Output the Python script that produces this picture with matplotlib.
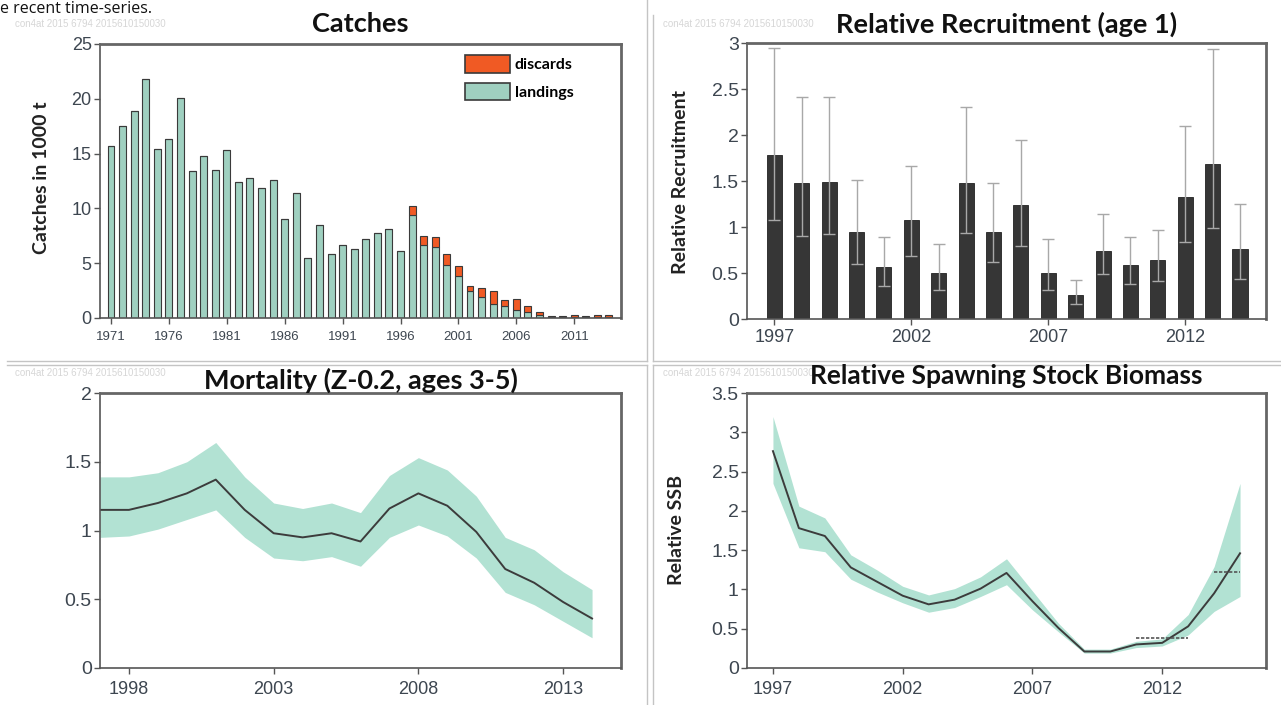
import matplotlib
matplotlib.use("Agg")
import matplotlib.pyplot as plt
from matplotlib.patches import Patch
from matplotlib.lines import Line2D
import numpy as np

# ---------------- data ----------------
catch_years = list(range(1971, 2015))
landings = [15.7, 17.5, 18.85, 21.8, 15.45, 16.35, 20.1, 13.4, 14.8, 13.5,
            15.3, 12.4, 12.8, 11.9, 12.6, 9.0, 11.4, 5.5, 8.5, 5.85,
            6.7, 6.3, 7.2, 7.8, 8.15, 6.15, 9.4, 6.65, 6.5, 4.85,
            3.85, 2.5, 1.95, 1.3, 1.1, 0.75, 0.55, 0.25, 0.05, 0.05,
            0.05, 0.05, 0.05, 0.05]
discards = [0, 0, 0, 0, 0, 0, 0, 0, 0, 0,
            0, 0, 0, 0, 0, 0, 0, 0, 0, 0,
            0, 0, 0, 0, 0, 0, 0.85, 0.85, 0.85, 1.0,
            0.9, 0.45, 0.8, 1.2, 0.5, 0.95, 0.55, 0.3, 0.1, 0.1,
            0.2, 0.1, 0.25, 0.25]
catch_ticks = [1971, 1976, 1981, 1986, 1991, 1996, 2001, 2006, 2011]

rec_years = list(range(1997, 2015))
rec = [1.78, 1.48, 1.49, 0.95, 0.56, 1.08, 0.50, 1.48, 0.95, 1.24,
       0.50, 0.26, 0.74, 0.59, 0.64, 1.33, 1.69, 0.76]
rec_lo = [1.08, 0.90, 0.92, 0.60, 0.36, 0.69, 0.32, 0.94, 0.62, 0.79,
          0.32, 0.16, 0.49, 0.38, 0.41, 0.84, 0.99, 0.44]
rec_hi = [2.95, 2.41, 2.41, 1.51, 0.89, 1.66, 0.81, 2.30, 1.48, 1.95,
          0.87, 0.42, 1.14, 0.89, 0.97, 2.10, 2.93, 1.25]
rec_ticks = [1997, 2002, 2007, 2012]

mort_years = list(range(1997, 2015))
mort = [1.15, 1.15, 1.20, 1.27, 1.37, 1.15, 0.98, 0.95, 0.98, 0.92,
        1.16, 1.27, 1.18, 0.99, 0.72, 0.62, 0.48, 0.36]
mort_lo = [0.95, 0.96, 1.01, 1.08, 1.15, 0.95, 0.80, 0.78, 0.81, 0.74,
           0.95, 1.04, 0.96, 0.80, 0.55, 0.46, 0.34, 0.22]
mort_hi = [1.39, 1.39, 1.42, 1.50, 1.64, 1.39, 1.20, 1.16, 1.20, 1.13,
           1.40, 1.53, 1.44, 1.25, 0.95, 0.86, 0.70, 0.57]
mort_ticks = [1998, 2003, 2008, 2013]

ssb_years = list(range(1997, 2016))
ssb = [2.76, 1.78, 1.68, 1.28, 1.10, 0.92, 0.81, 0.87, 1.01, 1.21,
       0.85, 0.51, 0.21, 0.21, 0.30, 0.32, 0.53, 0.95, 1.46]
ssb_lo = [2.35, 1.53, 1.48, 1.13, 0.97, 0.83, 0.71, 0.77, 0.91, 1.06,
          0.74, 0.46, 0.19, 0.19, 0.26, 0.28, 0.42, 0.72, 0.91]
ssb_hi = [3.20, 2.06, 1.91, 1.44, 1.25, 1.04, 0.93, 1.01, 1.16, 1.39,
          0.98, 0.57, 0.24, 0.24, 0.34, 0.37, 0.68, 1.29, 2.35]
ssb_ticks = [1997, 2002, 2007, 2012]
ssb_ref_years = [[2011, 2013], [2014, 2015]]
ssb_ref_vals = [0.38, 1.22]

# ---------------- style ----------------
W, H = 1281, 705
fig = plt.figure(figsize=(W / 100, H / 100), dpi=100)
fig.patch.set_facecolor("white")

TITLE_FONT = ["Lato", "DejaVu Sans"]
TICK_FONT = ["Liberation Sans Narrow", "Liberation Sans", "DejaVu Sans"]
TICK_COLOR = "#3d4650"
LAND = "#9fd0c0"
DISC = "#f05a24"
BAND = "#b2e2d3"
EDGE = "#3a3a3a"


def px_axes(l, r, t, b):
    return fig.add_axes([l / W, 1 - b / H, (r - l) / W, (b - t) / H])


def style(ax, xticks, yticks, ylabels, xfs=11, yfs=12, xpad=3):
    for s in ["left", "bottom"]:
        ax.spines[s].set_color("#555555")
        ax.spines[s].set_linewidth(1.2)
    for s in ["top", "right"]:
        ax.spines[s].set_color("#666666")
        ax.spines[s].set_linewidth(2.0)
    ax.set_xticks(xticks)
    ax.set_xticklabels([str(x) for x in xticks], fontfamily=TICK_FONT,
                       fontsize=xfs, color=TICK_COLOR)
    ax.set_yticks(yticks)
    ax.set_yticklabels(ylabels, fontfamily=TICK_FONT, fontsize=yfs,
                       color=TICK_COLOR)
    ax.tick_params(axis="both", direction="out", length=4, width=1,
                   color="#555555", pad=2)
    ax.tick_params(axis="x", pad=xpad)


def title(ax, text, y_px, fs=19.5):
    bb = ax.get_position()
    fig.text((bb.x0 + bb.x1) / 2, 1 - y_px / H, text, ha="center",
             va="center", fontsize=fs, fontweight="bold",
             fontfamily=TITLE_FONT, color="#111111", zorder=5)


def ylabel(x_px, y_px, text):
    fig.text(x_px / W, 1 - y_px / H, text, rotation=90, ha="center",
             va="center", fontsize=14, fontweight="bold",
             fontfamily=TITLE_FONT, color="#222222")


# ---------------- page elements ----------------
fig.text(0, 1 - 1 / H, "e recent time-series.", ha="left", va="top",
         fontsize=11.5, fontfamily=["Open Sans", "DejaVu Sans"], color="#111111")

wm = "con4at 2015 6794 2015610150030"
for (x, y) in [(15, 24), (663, 24), (15, 373), (663, 373)]:
    fig.text(x / W, 1 - y / H, wm, fontsize=7, color="#d6d6d6",
             va="center", ha="left", fontfamily=TICK_FONT, zorder=0)

border = dict(color="#c4c4c4", lw=1.0, transform=fig.transFigure, zorder=0)
def fline(x0, y0, x1, y1):
    fig.add_artist(Line2D([x0 / W, x1 / W], [1 - y0 / H, 1 - y1 / H], **border))

fline(647, 0, 647, 361)
fline(7, 361, 647, 361)
fline(653, 15, 653, 361)
fline(653, 361, W, 361)
fline(7, 365, 647, 365)
fline(647, 365, 647, H)
fline(653, 365, W, 365)
fline(653, 365, 653, H)

# ---------------- Catches ----------------
ax1 = px_axes(100, 621, 44, 318)
ax1.bar(catch_years, landings, width=0.6, color=LAND, edgecolor=EDGE,
        linewidth=0.8, zorder=2)
ax1.bar(catch_years, discards, width=0.6, bottom=landings, color=DISC,
        edgecolor=EDGE, linewidth=0.8, zorder=2)
ax1.set_xlim(1970.05, 2015.04)
ax1.set_ylim(0, 25)
style(ax1, catch_ticks, [0, 5, 10, 15, 20, 25],
      ["0", "5", "10", "15", "20", "25"], xfs=9.5, yfs=13, xpad=5)
handles = [Patch(facecolor=DISC, edgecolor=EDGE, linewidth=1.2, label="discards"),
           Patch(facecolor=LAND, edgecolor=EDGE, linewidth=1.2, label="landings")]
ax1.legend(handles=handles, loc="upper right", frameon=False,
           handlelength=2.8, handleheight=1.3, handletextpad=0.3,
           labelspacing=0.65, borderaxespad=0.3, bbox_to_anchor=(0.93, 1.0),
           prop=dict(family=TITLE_FONT, weight="bold", size=11.5))
title(ax1, "Catches", 24)
ylabel(42, 178, "Catches in 1000 t")

# ---------------- Recruitment ----------------
ax2 = px_axes(747, 1266, 43, 319)
rec_a = np.array(rec)
ax2.bar(rec_years, rec, width=0.55, color="#363636", edgecolor="#222222",
        linewidth=0.6, zorder=2)
ax2.errorbar(rec_years, rec,
             yerr=[rec_a - np.array(rec_lo), np.array(rec_hi) - rec_a],
             fmt="none", ecolor="#a8a8a8", elinewidth=1.0, capsize=4,
             capthick=1.0, zorder=3)
ax2.set_xlim(1996.0, 2014.95)
ax2.set_ylim(0, 3)
style(ax2, rec_ticks, [0, 0.5, 1, 1.5, 2, 2.5, 3],
      ["0", "0.5", "1", "1.5", "2", "2.5", "3"], xfs=13, yfs=14)
title(ax2, "Relative Recruitment (age 1)", 24)
ylabel(680, 182, "Relative Recruitment")

# ---------------- Mortality ----------------
ax3 = px_axes(100, 621, 393, 668)
ax3.fill_between(mort_years, mort_lo, mort_hi, color=BAND, linewidth=0,
                 zorder=1)
ax3.plot(mort_years, mort, color="#3c3c3c", lw=1.4, zorder=2)
ax3.set_xlim(1997.0, 2015.0)
ax3.set_ylim(0, 2)
style(ax3, mort_ticks, [0, 0.5, 1, 1.5, 2],
      ["0", "0.5", "1", "1.5", "2"], xfs=13, yfs=14, xpad=5)
title(ax3, "Mortality (Z-0.2, ages 3-5)", 380)

# ---------------- SSB ----------------
ax4 = px_axes(747, 1266, 393, 668)
ax4.fill_between(ssb_years, ssb_lo, ssb_hi, color=BAND, linewidth=0,
                 zorder=1)
ax4.plot(ssb_years, ssb, color="#3c3c3c", lw=1.4, zorder=2)
for yrs, v in zip(ssb_ref_years, ssb_ref_vals):
    ax4.plot(yrs, [v, v], color="#555555", lw=1.2, ls=(0, (2, 1)), zorder=3)
ax4.set_xlim(1996.0, 2016.0)
ax4.set_ylim(0, 3.5)
style(ax4, ssb_ticks, [0, 0.5, 1, 1.5, 2, 2.5, 3, 3.5],
      ["0", "0.5", "1", "1.5", "2", "2.5", "3", "3.5"], xfs=13, yfs=14,
      xpad=5)
title(ax4, "Relative Spawning Stock Biomass", 376, fs=19)
ylabel(676, 530, "Relative SSB")

fig.savefig("out.png", dpi=100, facecolor="white")
